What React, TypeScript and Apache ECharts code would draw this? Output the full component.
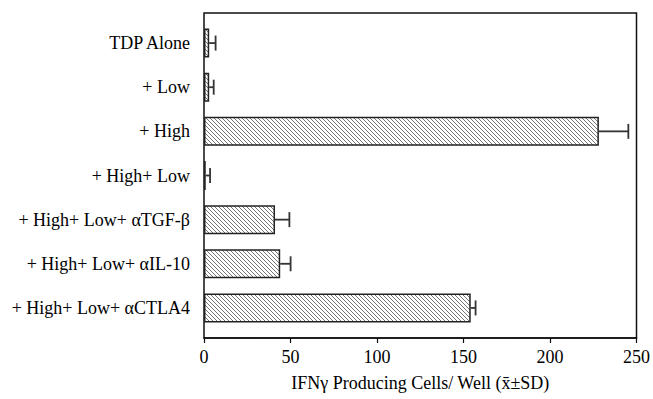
import React, { useEffect, useRef } from "react";
import * as echarts from "echarts";

const categories = [
  "TDP Alone",
  "+ Low",
  "+ High",
  "+ High+ Low",
  "+ High+ Low+ \u03b1TGF-\u03b2",
  "+ High+ Low+ \u03b1IL-10",
  "+ High+ Low+ \u03b1CTLA4",
];
const means = [3, 3, 228, 1, 41, 44, 154];
const sds = [3.7, 2.6, 17, 2.5, 8.3, 6, 2.8];
const xTicks = { min: 0, max: 250, interval: 50 };
const xTitle = "IFN\u03b3 Producing Cells/ Well (x\u0304\u00b1SD)";

const FONT = "'Liberation Serif', 'Times New Roman', serif";

function makePattern() {
  const c = document.createElement("canvas");
  c.width = 4;
  c.height = 4;
  const ctx = c.getContext("2d")!;
  ctx.fillStyle = "#ffffff";
  ctx.fillRect(0, 0, 4, 4);
  ctx.fillStyle = "#777777";
  for (let i = 0; i < 4; i++) ctx.fillRect(i, i, 1, 1);
  return c;
}

export default function App() {
  const ref = useRef<HTMLDivElement>(null);
  useEffect(() => {
    if (!ref.current) return;
    const chart = echarts.init(ref.current, undefined, { renderer: "svg" });
    const pattern = makePattern();
    const errData = means.map((m, i) => [m, m + sds[i], i]);
    chart.setOption({
      animation: false,
      backgroundColor: "#fff",
      grid: [
        {
          left: 204,
          right: 16,
          top: 13,
          bottom: 61,
          show: true,
          borderColor: "#111",
          borderWidth: 1.5,
          backgroundColor: "transparent",
        },
        { left: 204, right: 16, top: 21, bottom: 69 },
      ],
      xAxis: [
        {
          gridIndex: 0,
          type: "value",
          min: xTicks.min,
          max: xTicks.max,
          interval: xTicks.interval,
          splitLine: { show: false },
          axisLine: { show: true, lineStyle: { color: "#111", width: 1.5 } },
          axisTick: { show: true, inside: false, length: 5, lineStyle: { color: "#111", width: 1.2 } },
          axisLabel: { color: "#000", fontSize: 18, fontFamily: FONT, margin: 10 },
          name: xTitle,
          nameLocation: "middle",
          nameGap: 36,
          nameTextStyle: { color: "#000", fontSize: 18, fontFamily: FONT },
        },
        {
          gridIndex: 1,
          type: "value",
          min: xTicks.min,
          max: xTicks.max,
          show: false,
        },
      ],
      yAxis: [
        { gridIndex: 0, type: "value", show: false },
        {
          gridIndex: 1,
          type: "category",
          inverse: true,
          data: categories,
          axisLine: { show: false },
          axisTick: { show: false },
          splitLine: { show: false },
          axisLabel: { color: "#000", fontSize: 18, fontFamily: FONT, margin: 14 },
        },
      ],
      series: [
        {
          type: "bar",
          xAxisIndex: 1,
          yAxisIndex: 1,
          data: means,
          barWidth: 29,
          itemStyle: {
            color: { image: pattern, repeat: "repeat" },
            borderColor: "#222",
            borderWidth: 1.5,
          },
        },
        {
          type: "custom",
          xAxisIndex: 1,
          yAxisIndex: 1,
          data: errData,
          z: 5,
          renderItem: (params: any, api: any) => {
            const p0 = api.coord([api.value(0), api.value(2)]);
            const p1 = api.coord([api.value(1), api.value(2)]);
            const style = { stroke: "#333", lineWidth: 1.8 };
            return {
              type: "group",
              children: [
                { type: "line", shape: { x1: p0[0], y1: p0[1], x2: p1[0], y2: p1[1] }, style },
                { type: "line", shape: { x1: p1[0], y1: p1[1] - 7.5, x2: p1[0], y2: p1[1] + 7.5 }, style },
              ],
            };
          },
        },
      ],
    });
    return () => chart.dispose();
  }, []);
  return (
    <div
      ref={ref}
      style={{ position: "fixed", left: 0, top: 0, width: 653, height: 399 }}
    />
  );
}
